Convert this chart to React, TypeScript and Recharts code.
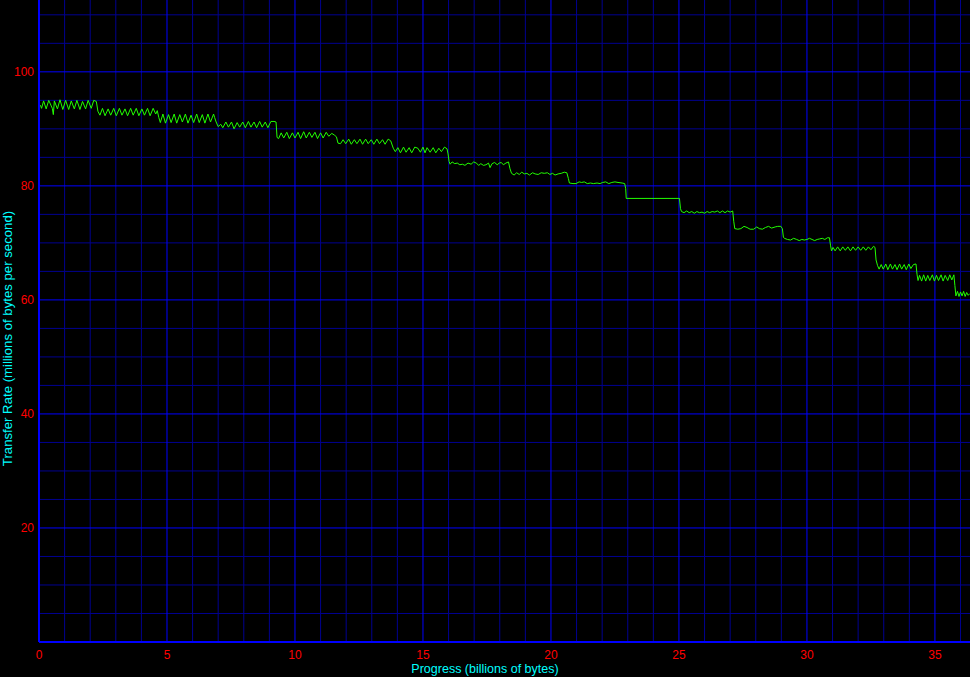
import React from 'react';
import { LineChart, Line, XAxis, YAxis, CartesianGrid } from 'recharts';

// Progress (billions of bytes) vs transfer rate (millions of bytes per second), zone by zone
const zone1: [number, number][] = [
  [0.0, 94.0], [0.06, 94.1], [0.1, 93.6], [0.18, 94.9], [0.28, 93.5], [0.38, 95.0], [0.52, 93.6], [0.56, 92.5],
  [0.6, 94.9], [0.72, 93.5], [0.82, 95.1], [0.93, 93.4], [1.04, 95.0], [1.16, 93.4], [1.26, 94.9], [1.38, 93.5],
  [1.48, 95.0], [1.6, 93.4], [1.7, 94.8], [1.82, 93.5], [1.92, 95.0], [2.04, 93.6], [2.14, 95.0], [2.24, 94.8],
];
const zone2: [number, number][] = [
  [2.3, 93.1], [2.38, 92.4], [2.48, 93.6], [2.58, 92.3], [2.7, 93.5], [2.8, 92.4], [2.92, 93.6], [3.02, 92.3],
  [3.14, 93.6], [3.24, 92.4], [3.36, 93.5], [3.46, 92.3], [3.58, 93.6], [3.68, 92.4], [3.8, 93.6], [3.9, 92.3],
  [4.02, 93.5], [4.12, 92.4], [4.24, 93.6], [4.34, 92.3], [4.46, 93.6], [4.56, 92.6], [4.62, 93.2],
];
const zone3: [number, number][] = [
  [4.68, 92.0], [4.74, 91.1], [4.84, 92.6], [4.94, 91.0], [5.06, 92.5], [5.16, 91.1], [5.28, 92.6], [5.38, 91.0],
  [5.5, 92.5], [5.6, 91.2], [5.72, 92.6], [5.82, 91.0], [5.94, 92.4], [6.04, 91.1], [6.16, 92.6], [6.26, 91.1],
  [6.38, 92.5], [6.48, 91.0], [6.6, 92.6], [6.7, 91.2], [6.82, 92.6], [6.86, 92.0],
];
const zone4: [number, number][] = [
  [6.92, 91.2], [7.0, 90.4], [7.1, 90.8], [7.18, 90.2], [7.3, 91.2], [7.4, 90.3], [7.52, 91.2], [7.62, 90.0],
  [7.74, 91.1], [7.84, 90.3], [7.96, 91.2], [8.06, 90.2], [8.18, 91.3], [8.28, 90.3], [8.4, 91.2], [8.5, 90.2],
  [8.62, 91.3], [8.72, 90.3], [8.84, 91.2], [8.94, 90.2], [9.06, 91.3], [9.18, 91.3], [9.26, 91.2],
];
const zone5: [number, number][] = [
  [9.3, 88.5], [9.36, 88.3], [9.46, 89.3], [9.56, 88.4], [9.68, 89.4], [9.78, 88.3], [9.9, 89.3], [10.0, 88.4],
  [10.12, 89.4], [10.22, 88.3], [10.34, 89.5], [10.44, 88.4], [10.56, 89.4], [10.66, 88.5], [10.78, 89.4], [10.88, 88.3],
  [11.0, 89.3], [11.1, 88.4], [11.22, 89.4], [11.32, 88.7], [11.44, 89.2], [11.54, 88.9], [11.62, 88.6],
];
const zone6: [number, number][] = [
  [11.68, 87.5], [11.78, 87.4], [11.88, 88.1], [11.98, 87.4], [12.1, 88.2], [12.2, 87.3], [12.32, 88.1], [12.42, 87.4],
  [12.54, 88.2], [12.64, 87.3], [12.76, 88.2], [12.86, 87.4], [12.98, 88.1], [13.08, 87.3], [13.2, 88.2], [13.3, 87.4],
  [13.42, 88.1], [13.52, 87.3], [13.64, 88.2], [13.74, 87.9],
];
const zone7: [number, number][] = [
  [13.84, 86.6], [13.92, 86.0], [14.02, 86.7], [14.12, 85.8], [14.24, 86.8], [14.34, 85.9], [14.46, 86.7], [14.56, 85.8],
  [14.68, 86.8], [14.8, 86.6], [14.9, 85.9], [15.0, 86.8], [15.08, 85.8], [15.16, 86.7], [15.28, 85.9], [15.4, 86.7],
  [15.5, 85.8], [15.62, 86.6], [15.72, 86.0], [15.84, 86.8], [15.94, 86.5], [15.98, 85.6],
];
const zone8: [number, number][] = [
  [16.02, 84.3], [16.06, 83.8], [16.14, 84.2], [16.24, 83.9], [16.34, 84.0], [16.44, 83.7], [16.54, 83.8], [16.64, 83.6],
  [16.76, 84.0], [16.88, 83.8], [16.98, 84.2], [17.08, 84.0], [17.18, 83.6], [17.26, 83.9], [17.36, 83.6], [17.46, 83.7],
  [17.56, 84.0], [17.62, 83.2], [17.7, 83.9], [17.8, 84.1], [17.9, 83.7], [17.98, 84.0], [18.06, 84.1], [18.14, 83.7],
  [18.24, 84.0], [18.34, 84.2],
];
const zone9: [number, number][] = [
  [18.4, 83.0], [18.46, 82.2], [18.56, 81.9], [18.66, 82.3], [18.76, 82.0], [18.86, 82.4], [18.96, 82.1], [19.06, 82.2],
  [19.16, 81.9], [19.28, 82.3], [19.38, 82.1], [19.5, 82.0], [19.62, 82.3], [19.74, 82.2], [19.86, 82.3], [19.96, 82.0],
  [20.06, 82.2], [20.16, 81.9], [20.28, 82.1], [20.4, 82.2], [20.52, 82.4], [20.62, 82.3],
];
const zone10: [number, number][] = [
  [20.68, 81.3], [20.72, 80.5], [20.86, 80.4], [20.98, 80.4], [21.1, 80.7], [21.2, 80.6], [21.3, 80.7], [21.42, 80.4],
  [21.54, 80.5], [21.66, 80.4], [21.8, 80.5], [21.92, 80.4], [22.02, 80.6], [22.14, 80.7], [22.26, 80.4], [22.38, 80.6],
  [22.5, 80.7], [22.62, 80.6], [22.78, 80.5], [22.88, 80.4],
];
const zone11: [number, number][] = [
  [22.92, 79.5], [22.94, 77.8], [25.02, 77.8],
];
const zone12: [number, number][] = [
  [25.06, 76.0], [25.1, 75.5], [25.2, 75.3], [25.3, 75.6], [25.4, 75.3], [25.5, 75.5], [25.6, 75.2], [25.7, 75.5],
  [25.8, 75.3], [25.9, 75.4], [26.0, 75.2], [26.1, 75.5], [26.2, 75.3], [26.3, 75.5], [26.4, 75.4], [26.5, 75.6],
  [26.6, 75.3], [26.7, 75.6], [26.8, 75.3], [26.9, 75.6], [27.0, 75.4], [27.1, 75.6],
];
const zone13: [number, number][] = [
  [27.14, 73.8], [27.18, 72.5], [27.3, 72.4], [27.42, 72.5], [27.54, 72.9], [27.66, 72.7], [27.78, 72.4], [27.92, 72.4],
  [28.04, 72.8], [28.14, 72.5], [28.26, 72.4], [28.38, 72.7], [28.5, 72.9], [28.62, 72.6], [28.76, 72.8], [28.86, 72.9],
  [28.98, 72.9], [29.04, 72.5],
];
const zone14: [number, number][] = [
  [29.08, 71.0], [29.12, 70.8], [29.24, 70.6], [29.36, 70.5], [29.48, 70.8], [29.6, 70.6], [29.7, 70.4], [29.8, 70.6],
  [29.9, 70.5], [30.0, 70.6], [30.1, 70.8], [30.2, 70.6], [30.3, 70.4], [30.4, 70.6], [30.5, 70.7], [30.6, 70.8],
  [30.7, 70.6], [30.8, 70.9], [30.88, 70.9],
];
const zone15: [number, number][] = [
  [30.92, 69.6], [30.96, 68.6], [31.02, 69.2], [31.1, 68.6], [31.2, 69.3], [31.3, 68.6], [31.4, 69.3], [31.5, 68.7],
  [31.6, 69.3], [31.7, 68.6], [31.8, 69.3], [31.9, 68.7], [32.0, 69.3], [32.1, 68.7], [32.2, 69.3], [32.3, 68.7],
  [32.4, 69.3], [32.5, 68.8], [32.6, 69.4], [32.66, 69.2],
];
const zone16: [number, number][] = [
  [32.7, 67.0], [32.76, 66.0], [32.82, 65.4], [32.9, 66.2], [32.98, 65.4], [33.08, 66.3], [33.16, 65.3], [33.26, 66.3],
  [33.34, 65.4], [33.44, 66.2], [33.52, 65.3], [33.62, 66.3], [33.7, 65.4], [33.8, 66.2], [33.88, 65.3], [33.98, 66.3],
  [34.06, 65.5], [34.16, 66.2], [34.26, 66.3],
];
const zone17: [number, number][] = [
  [34.3, 64.5], [34.34, 63.4], [34.4, 64.3], [34.48, 63.3], [34.56, 64.4], [34.64, 63.3], [34.72, 64.3], [34.8, 63.4],
  [34.9, 64.4], [34.98, 63.3], [35.06, 64.3], [35.14, 63.4], [35.24, 64.4], [35.32, 63.3], [35.4, 64.3], [35.5, 63.4],
  [35.58, 64.4], [35.66, 63.5], [35.74, 64.4],
];
const zone18: [number, number][] = [
  [35.78, 62.5], [35.82, 60.7], [35.88, 61.5], [35.94, 60.6], [36.0, 61.4], [36.06, 60.7], [36.12, 61.5], [36.18, 60.6],
  [36.24, 61.3], [36.3, 60.8], [36.36, 61.1],
];

const xTicks = [0, 5, 10, 15, 20, 25, 30, 35];
const yTicks = [20, 40, 60, 80, 100];
const xMinor = [1, 2, 3, 4, 6, 7, 8, 9, 11, 12, 13, 14, 16, 17, 18, 19, 21, 22, 23, 24, 26, 27, 28, 29, 31, 32, 33, 34, 36];
const yMinor = [5, 10, 15, 25, 30, 35, 45, 50, 55, 65, 70, 75, 85, 90, 95, 105, 110];
const xTitle = 'Progress (billions of bytes)';
const yTitle = 'Transfer Rate (millions of bytes per second)';

const data = [
  ...zone1, ...zone2, ...zone3, ...zone4, ...zone5, ...zone6, ...zone7, ...zone8, ...zone9,
  ...zone10, ...zone11, ...zone12, ...zone13, ...zone14, ...zone15, ...zone16, ...zone17, ...zone18,
].map(([x, y]) => ({ x, y }));

const W = 970;
const H = 677;
const FONT = '"Liberation Sans", Arial, sans-serif';

const XTitle = () => (
  <text x={W / 2} y={673} textAnchor="middle" fill="#00ffff" fontSize={12.5} fontFamily={FONT}>
    {xTitle}
  </text>
);
const YTitle = () => (
  <text
    x={12}
    y={H / 2}
    textAnchor="middle"
    fill="#00ffff"
    fontSize={13.2}
    fontFamily={FONT}
    transform={`rotate(-90, 12, ${H / 2})`}
  >
    {yTitle}
  </text>
);

export default function App() {
  return (
    <div style={{ position: 'absolute', left: 0, top: 0, width: W, height: H, background: '#000' }}>
      <LineChart width={W} height={H} data={data} margin={{ top: 0, right: 0, bottom: 0, left: 0 }}>
        <CartesianGrid stroke="#000090" horizontalValues={yMinor} verticalValues={xMinor} />
        <CartesianGrid stroke="#0000ff" horizontalValues={yTicks} verticalValues={xTicks} />
        <XAxis
          dataKey="x"
          type="number"
          domain={[0, 36.37]}
          ticks={xTicks}
          height={35}
          tickLine={false}
          tickSize={0}
          tickMargin={8}
          axisLine={{ stroke: '#0000ff', strokeWidth: 2 }}
          tick={{ fill: '#ff0000', fontSize: 12, fontFamily: FONT }}
          allowDataOverflow
          label={{ content: () => <XTitle /> }}
        />
        <YAxis
          type="number"
          domain={[0, 112.6]}
          ticks={yTicks}
          width={39}
          tickLine={false}
          tickSize={0}
          tickMargin={5}
          axisLine={{ stroke: '#0000ff', strokeWidth: 2 }}
          tick={{ fill: '#ff0000', fontSize: 12, fontFamily: FONT }}
          allowDataOverflow
          label={{ content: () => <YTitle /> }}
        />
        <Line
          dataKey="y"
          type="linear"
          stroke="#22ff00"
          strokeWidth={1}
          dot={false}
          activeDot={false}
          isAnimationActive={false}
        />
      </LineChart>
    </div>
  );
}
